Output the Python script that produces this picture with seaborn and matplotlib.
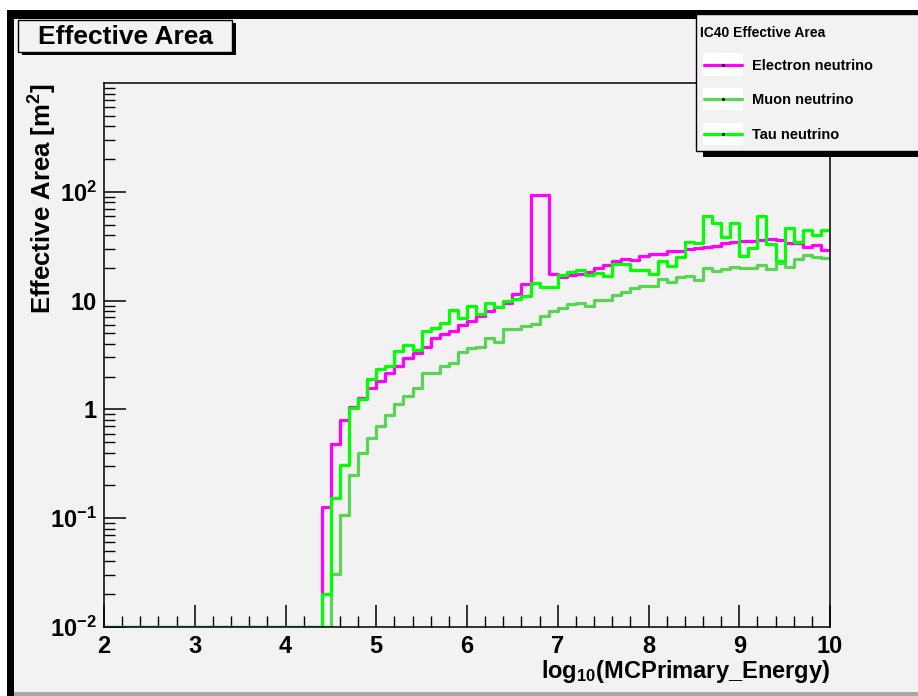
import numpy as np
import pandas as pd
import seaborn as sns
import matplotlib
matplotlib.use("Agg")
import matplotlib.pyplot as plt
from matplotlib import font_manager
from matplotlib.patches import Rectangle
from matplotlib.lines import Line2D
from matplotlib.legend_handler import HandlerBase
from matplotlib.ticker import FixedLocator, MultipleLocator, LogLocator, NullFormatter

# ---------------- data ----------------
bin_edges = np.round(np.arange(2.0, 10.0001, 0.1), 1)
n_empty = 24  # bins 2.0 .. 4.4 are empty

electron = [0.128, 0.48, 0.80, 1.06, 1.28, 1.57,
            1.83, 2.18, 2.53, 2.96, 3.33, 3.78, 4.55, 4.9, 5.3, 5.98,
            6.56, 7.24, 7.94, 8.81, 9.6, 11.5, 14.1, 93.8, 93.8, 17.5,
            16.5, 17.1, 17.4, 18.5, 19.9, 21.4, 22.9, 24.3, 23.7, 25.5,
            26.6, 26.9, 28.3, 28.6, 30.0, 30.3, 31.2, 32.0, 33.5, 34.3,
            35.0, 35.4, 35.8, 36.8, 35.8, 34.0, 33.5, 31.4, 32.2, 29.3]
muon = [0.0, 0.031, 0.106, 0.25, 0.40, 0.55,
        0.71, 0.88, 1.12, 1.34, 1.57, 2.14, 2.14, 2.48, 2.66, 3.35,
        3.65, 3.78, 4.57, 4.17, 5.46, 5.46, 5.8, 6.1, 7.24, 7.94,
        8.5, 9.33, 9.6, 8.95, 10.2, 10.2, 11.3, 11.9, 13.0, 13.7,
        13.7, 15.8, 14.8, 16.5, 16.9, 15.5, 19.9, 18.9, 19.5, 20.3,
        19.9, 19.9, 21.4, 19.6, 22.0, 20.5, 24.3, 26.1, 25.2, 24.5]
tau = [0.020, 0.152, 0.31, 1.03, 1.24, 1.90,
       2.34, 2.48, 3.47, 3.92, 3.52, 5.31, 5.6, 6.28, 8.22, 6.89,
       8.95, 7.55, 9.47, 8.71, 10.0, 10.3, 11.1, 14.5, 13.3, 13.4,
       17.3, 18.2, 19.2, 17.3, 18.1, 16.9, 21.6, 21.6, 19.2, 19.2,
       17.4, 23.0, 21.0, 25.4, 34.9, 33.5, 59.5, 51.5, 38.8, 51.5,
       25.8, 30.3, 59.5, 33.0, 23.0, 46.4, 34.2, 44.1, 40.0, 44.1]

series_names = ["Electron neutrino", "Muon neutrino", "Tau neutrino"]
series_colors = ["#ff00ff", "#59d454", "#00ff00"]
legend_title = "IC40 Effective Area"
plot_title = "Effective Area"
y_ticks = [1e-2, 1e-1, 1, 10, 100]
y_ticklabels = [r"$\mathbf{10^{-2}}$", r"$\mathbf{10^{-1}}$", "1", "10", r"$\mathbf{10^{2}}$"]
x_ticks = [2, 3, 4, 5, 6, 7, 8, 9, 10]
ymin, ymax = 1e-2, 1e3

# ---------------- fonts ----------------
sns.set_theme(style="white")
names = {f.name for f in font_manager.fontManager.ttflist}
fam = "Liberation Sans Narrow" if "Liberation Sans Narrow" in names else "Liberation Sans"
plt.rcParams["font.family"] = [fam, "DejaVu Sans"]
plt.rcParams["font.weight"] = "bold"
plt.rcParams["text.color"] = "black"
plt.rcParams["axes.labelcolor"] = "black"
plt.rcParams["xtick.color"] = "black"
plt.rcParams["ytick.color"] = "black"
plt.rcParams["mathtext.fontset"] = "custom"
plt.rcParams["mathtext.bf"] = f"{fam}:bold"
plt.rcParams["mathtext.rm"] = f"{fam}:bold"
plt.rcParams["mathtext.it"] = f"{fam}:bold"

BG = "#f2f2f2"
W, H = 918, 696
fig = plt.figure(figsize=(W / 100, H / 100), dpi=100, facecolor="white")

def fx(px):
    return px / W

def fy(py):
    return 1 - py / H

# canvas background and frame decoration
fig.patches.append(Rectangle((fx(14), fy(693)), fx(918) - fx(14), fy(19) - fy(693),
                             transform=fig.transFigure, facecolor=BG, edgecolor="none", zorder=-5))
fig.patches.append(Rectangle((fx(7), fy(19)), fx(918) - fx(7), fy(10) - fy(19),
                             transform=fig.transFigure, facecolor="black", edgecolor="none", zorder=-4))
fig.patches.append(Rectangle((fx(7), fy(696)), fx(14) - fx(7), fy(10) - fy(696),
                             transform=fig.transFigure, facecolor="black", edgecolor="none", zorder=-4))
fig.patches.append(Rectangle((fx(14), fy(696)), fx(918) - fx(14), fy(692) - fy(696),
                             transform=fig.transFigure, facecolor="#a8a8a8", edgecolor="none", zorder=-4))

ax = fig.add_axes([fx(104), fy(627), fx(830) - fx(104), fy(83) - fy(627)])
ax.set_facecolor(BG)

rows = []
for name, vals in zip(series_names, [electron, muon, tau]):
    full = np.concatenate([np.zeros(n_empty), np.array(vals, dtype=float)])
    shown = np.where(full > 0, full, ymin)  # empty bins drawn at the axis floor, as ROOT does
    shown = np.append(shown, shown[-1])     # closing edge for step drawing
    for e, v in zip(bin_edges, shown):
        rows.append({"x": e, "y": v, "series": name})
df = pd.DataFrame(rows)

for name, col in zip(series_names, series_colors):
    sub = df[df["series"] == name]
    sns.lineplot(data=sub, x="x", y="y", color=col, linewidth=2.3, ax=ax,
                 drawstyle="steps-post", estimator=None, sort=False)

ax.set_yscale("log")
ax.set_xlim(2, 10)
ax.set_ylim(ymin, ymax)

# ticks (ROOT style: inward)
ax.xaxis.set_major_locator(FixedLocator(x_ticks))
ax.xaxis.set_minor_locator(MultipleLocator(0.2))
ax.set_xticklabels([str(t) for t in x_ticks])
ax.yaxis.set_major_locator(FixedLocator(y_ticks))
ax.set_yticklabels(y_ticklabels)
ax.yaxis.set_minor_locator(LogLocator(base=10, subs=np.arange(2, 10)))
ax.yaxis.set_minor_formatter(NullFormatter())
ax.tick_params(axis="both", which="major", direction="in", length=16, width=1.1,
               color="black", labelsize=17, labelcolor="black")
ax.tick_params(axis="both", which="minor", direction="in", length=8, width=1.0, color="black")
ax.tick_params(axis="x", which="both", top=False, bottom=True, pad=6)
ax.tick_params(axis="y", which="both", left=True, right=False, pad=5)
for lab in ax.get_xticklabels() + ax.get_yticklabels():
    lab.set_fontweight("bold")
for s in ax.spines.values():
    s.set_color("black")
    s.set_linewidth(1.1)
    s.set_visible(True)
ax.grid(False)
if ax.get_legend() is not None:
    ax.get_legend().remove()

ax.set_xlabel(r"log$_{\mathbf{10}}$(MCPrimary_Energy)", fontsize=17, fontweight="bold",
              loc="right", labelpad=0, color="black")
ax.set_ylabel(r"Effective Area [m$^{\mathbf{2}}$]", fontsize=18.5, fontweight="bold",
              loc="top", color="black")
ax.yaxis.set_label_coords((59 - 104) / 726, 1.0)

# title box with shadow
fig.patches.append(Rectangle((fx(22), fy(55)), fx(236) - fx(22), fy(23) - fy(55),
                             transform=fig.transFigure, facecolor="black", edgecolor="none", zorder=1))
fig.patches.append(Rectangle((fx(18), fy(52)), fx(232) - fx(18), fy(20) - fy(52),
                             transform=fig.transFigure, facecolor=BG, edgecolor="black",
                             linewidth=1.0, zorder=2))
fig.text(fx(125), fy(37), plot_title, ha="center", va="center", fontsize=19,
         fontweight="bold", color="black", zorder=3)

# legend box with shadow
fig.patches.append(Rectangle((fx(703), fy(157)), fx(925) - fx(703), fy(20) - fy(157),
                             transform=fig.transFigure, facecolor="black", edgecolor="none", zorder=1))
fig.patches.append(Rectangle((fx(696), fy(151)), fx(920) - fx(696), fy(14) - fy(151),
                             transform=fig.transFigure, facecolor=BG, edgecolor="black",
                             linewidth=1.0, zorder=2))
fig.text(fx(700), fy(33), legend_title, ha="left", va="center", fontsize=10,
         fontweight="bold", color="black", zorder=3)


class BoxLineHandler(HandlerBase):
    """ROOT-like legend sample: white box with the line through its middle."""
    def create_artists(self, legend, orig_handle, xdescent, ydescent, width, height,
                       fontsize, trans):
        cy = height / 2 - ydescent
        box = Rectangle((-xdescent, cy - 8), width, 16, facecolor="white",
                        edgecolor="none", transform=trans)
        line = Line2D([-xdescent + 1, -xdescent + width - 1], [cy, cy],
                      color=orig_handle.get_color(), lw=2.3, transform=trans)
        dot = Line2D([-xdescent + width / 2], [cy], marker="o", markersize=1.2,
                     color="black", lw=0, transform=trans)
        return [box, line, dot]


handles = [Line2D([], [], color=c, lw=2.3) for c in series_colors]
leg = fig.legend(handles, series_names, loc="upper left",
                 bbox_to_anchor=(fx(703), fy(58)), frameon=False,
                 handler_map={Line2D: BoxLineHandler()},
                 handlelength=2.75, handleheight=1.0, handletextpad=0.6,
                 labelspacing=1.38, borderaxespad=0, borderpad=0,
                 prop={"family": [fam, "DejaVu Sans"], "weight": "bold", "size": 10.5})
for t in leg.get_texts():
    t.set_color("black")
leg.set_zorder(4)

fig.savefig("out.png", dpi=100, facecolor=fig.get_facecolor())
